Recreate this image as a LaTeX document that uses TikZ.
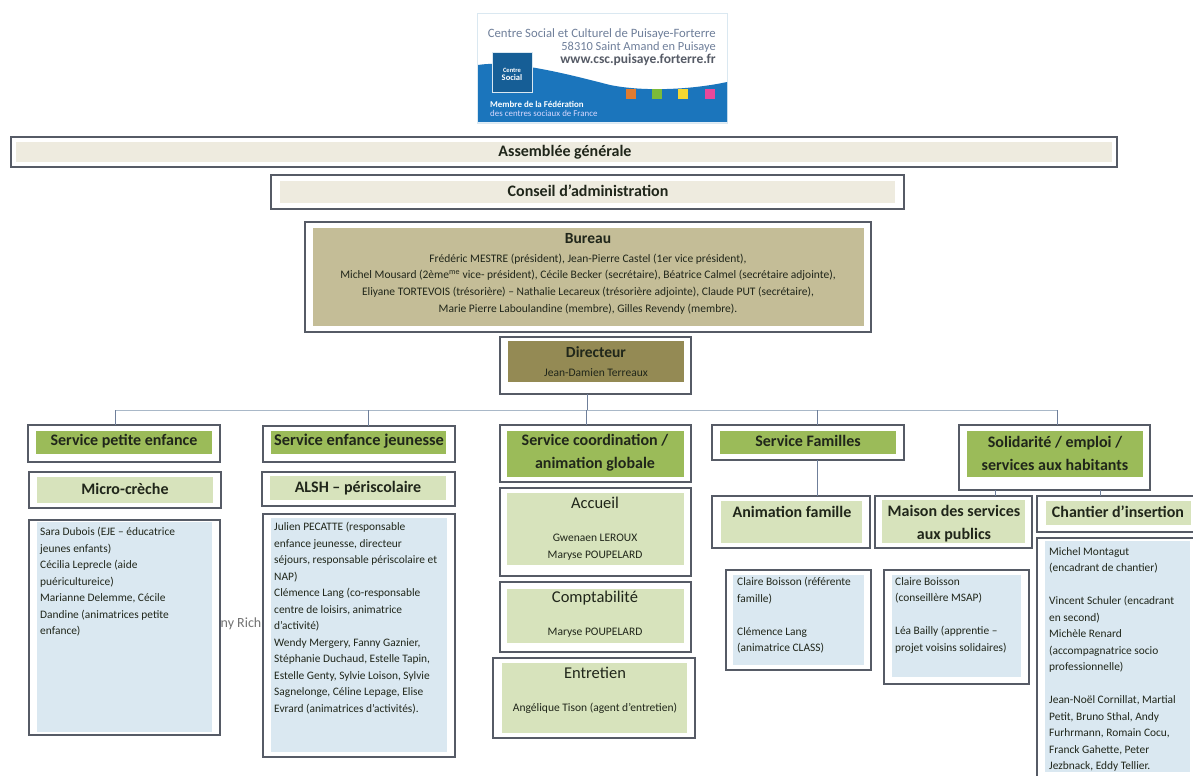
\documentclass[tikz,border=0pt]{standalone}
\usepackage{fontspec}
\setmainfont{Carlito}
\usetikzlibrary{fit}
\definecolor{lineC}{HTML}{565B66}
\definecolor{busC}{HTML}{A9B8C8}
\definecolor{stemC}{HTML}{6F7F9A}
\definecolor{beigeC}{HTML}{EEEBDF}
\definecolor{bureauC}{HTML}{C4BD97}
\definecolor{dirC}{HTML}{948A54}
\definecolor{greenC}{HTML}{9BBB59}
\definecolor{subC}{HTML}{D7E3BC}
\definecolor{blueC}{HTML}{DAE8F1}
\definecolor{inkC}{HTML}{20261A}
\definecolor{logoC}{HTML}{1B75BC}
\definecolor{sqA}{HTML}{E07B2E}
\definecolor{sqB}{HTML}{7CBB3A}
\definecolor{sqD}{HTML}{F5D730}
\definecolor{sqE}{HTML}{E8489B}
\tikzset{
 outerb/.style={draw=lineC,line width=1.5pt,inner sep=0pt,outer sep=0pt},
 openb/.style={draw=lineC,line width=1.5pt},
 fillb/.style={inner sep=0pt,outer sep=0pt},
 stem/.style={draw=stemC,line width=0.9pt},
 buss/.style={draw=busC,line width=1pt},
 ttl/.style={inner sep=0pt,font=\fontsize{16}{18}\selectfont\bfseries,text=inkC,align=center},
 ttlb/.style={inner sep=0pt,font=\fontsize{16}{23}\selectfont\bfseries,text=inkC,align=center},
 ttlr/.style={inner sep=0pt,font=\fontsize{16.5}{18}\selectfont,text=inkC,align=center},
 sm/.style={inner sep=0pt,font=\fontsize{11.5}{16.6}\selectfont,text=inkC,align=center},
 lst/.style={inner sep=0pt,anchor=north west,font=\fontsize{11.4}{16.5}\selectfont,text=inkC,align=left},
 logoT/.style={inner sep=0pt,anchor=east},
 sq/.style={inner sep=0pt,outer sep=0pt,minimum size=10pt}
}
\begin{document}
\begin{tikzpicture}[x=1pt,y=-1pt]
\useasboundingbox[fill=white] (0,0) rectangle (1193,776);
% logo
\node[fit={(477,14)(727,123)},inner sep=0pt,outer sep=0pt,draw=blueC,line width=1pt,fill=white] (logo) {};
\fill[logoC] (478,65) .. controls (510,60) and (560,72) .. (610,85) .. controls (650,93) and (700,88) .. (727,82) -- (727,122) -- (478,122) -- cycle;
\node[fit={(492,52)(532,92)},inner sep=0pt,outer sep=0pt,draw=blueC,line width=0.8pt,fill=logoC!80!black] (lsq) {};
\node[inner sep=0pt,text=white,font=\fontsize{6.5}{7}\selectfont\bfseries,align=center] (lsqt) at (512,74) {Centre\\[1pt]\fontsize{8.5}{9}\selectfont Social};
\node[logoT,text=stemC,font=\fontsize{12.7}{14}\selectfont] (l1) at (716,34) {Centre Social et Culturel de Puisaye-Forterre};
\node[logoT,text=stemC,font=\fontsize{12.4}{14}\selectfont] (l2) at (716,47) {58310 Saint Amand en Puisaye};
\node[logoT,text=lineC,font=\fontsize{13.5}{14}\selectfont\bfseries] (l3) at (716,60) {www.csc.puisaye.forterre.fr};
\node[inner sep=0pt,anchor=west,text=white,font=\fontsize{8.9}{10}\selectfont\bfseries] (l4) at (490,104) {Membre de la Fédération};
\node[inner sep=0pt,anchor=west,text=white!85!blue,font=\fontsize{8.9}{10}\selectfont] (l5) at (490,113) {des centres sociaux de France};
\node[sq,fill=sqA] (s1) at (631,94) {};
\node[sq,fill=sqB] (s2) at (657,94) {};
\node[sq,fill=sqD] (s3) at (683,94) {};
\node[sq,fill=sqE] (s4) at (710,94) {};
% stray text behind
\node[inner sep=0pt,text=black!55,font=\fontsize{14}{16}\selectfont] (rich) at (241,624) {ny Rich};
% top boxes
\node[outerb,fit={(11,137)(1117,167)}] (ag) {};
\node[fillb,fill=beigeC,fit={(16,142)(1112,162)}] (agf) {};
\node[ttl] (agt) at (565,152) {Assemblée générale};
\node[outerb,fit={(271,175)(904,209)}] (ca) {};
\node[fillb,fill=beigeC,fit={(280,181)(895,203)}] (caf) {};
\node[ttl] (cat) at (588,191) {Conseil d’administration};
\node[outerb,fit={(305,222)(871,332)}] (bu) {};
\node[fillb,fill=bureauC,fit={(313,228)(864,326)}] (buf) {};
\node[ttl,font=\fontsize{15.5}{18}\selectfont\bfseries] (but) at (588,239) {Bureau};
\node[sm] (bul) at (588,284) {Frédéric MESTRE (président), Jean-Pierre Castel (1er vice président),\\
Michel Mousard (2ème\textsuperscript{me} vice- président), Cécile Becker (secrétaire), Béatrice Calmel (secrétaire adjointe),\\
Eliyane TORTEVOIS (trésorière) – Nathalie Lecareux  (trésorière adjointe), Claude PUT (secrétaire),\\
Marie Pierre Laboulandine  (membre), Gilles Revendy (membre).};
\node[outerb,fit={(500,337)(691,394)}] (di) {};
\node[fillb,fill=dirC,fit={(508,341)(684,382)}] (dif) {};
\node[ttl,font=\fontsize{15.5}{18}\selectfont\bfseries] (dit) at (596,352) {Directeur};
\node[sm] (dil) at (596,373) {Jean-Damien Terreaux};
% service boxes
\node[outerb,fit={(28,425)(220,462)}] (sp) {};
\node[fillb,fill=greenC,fit={(36,431)(212,454)}] (spf) {};
\node[ttl] (spt) at (124,441) {Service petite enfance};
\node[outerb,fit={(263,426)(455,462)}] (se) {};
\node[fillb,fill=greenC,fit={(271,431)(446,454)}] (sef) {};
\node[ttl,font=\fontsize{16.4}{18}\selectfont\bfseries] (set) at (359,441) {Service enfance jeunesse};
\node[outerb,fit={(500,425)(691,482)}] (sc) {};
\node[fillb,fill=greenC,fit={(507,431)(684,477)}] (scf) {};
\node[ttlb] (sct) at (595,453) {Service coordination /\\animation globale};
\node[outerb,fit={(712,425)(904,460)}] (sf) {};
\node[fillb,fill=greenC,fit={(720,431)(896,454)}] (sff) {};
\node[ttl] (sft) at (808,441) {Service Familles};
\node[outerb,fit={(959,425)(1150,490)}] (ss) {};
\node[fillb,fill=greenC,fit={(967,431)(1143,477)}] (ssf) {};
\node[ttlb] (sst) at (1055,453) {Solidarité / emploi /\\services aux habitants};
% sub boxes
\node[outerb,fit={(29,472)(221,508)}] (mc) {};
\node[fillb,fill=subC,fit={(37,477)(213,503)}] (mcf) {};
\node[ttl] (mct) at (125,489) {Micro-crèche};
\node[outerb,fit={(262,472)(455,506)}] (al) {};
\node[fillb,fill=subC,fit={(270,476)(446,500)}] (alf) {};
\node[ttl] (alt) at (358,488) {ALSH – périscolaire};
\node[outerb,fit={(500,488)(691,576)}] (ac) {};
\node[fillb,fill=subC,fit={(507,493)(684,565)}] (acf) {};
\node[ttlr] (act) at (595,503) {Accueil};
\node[sm] (acl) at (595,547) {Gwenaen LEROUX\\Maryse POUPELARD};
\node[outerb,fit={(500,582)(691,652)}] (co) {};
\node[fillb,fill=subC,fit={(507,589)(684,643)}] (cof) {};
\node[ttlr] (cot) at (595,598) {Comptabilité};
\node[sm] (col) at (595,633) {Maryse POUPELARD};
\node[outerb,fit={(493,658)(695,738)}] (en) {};
\node[fillb,fill=subC,fit={(502,663)(687,733)}] (enf) {};
\node[ttlr] (ent) at (595,673) {Entretien};
\node[sm] (enl) at (595,708) {Angélique Tison (agent d’entretien)};
\node[outerb,fit={(712,496)(870,548)}] (af) {};
\node[fillb,fill=subC,fit={(721,501)(862,543)}] (aff) {};
\node[ttl] (aft) at (792,512) {Animation famille};
\node[outerb,fit={(875,496)(1032,548)}] (ms) {};
\node[fillb,fill=subC,fit={(882,500)(1025,543)}] (msf) {};
\node[ttlb] (mst) at (954,524) {Maison des services\\aux publics};
\node[fillb,fit={(1037,496)(1193,532)}] (ch) {};
\draw[openb] (1193,496) -- (1037,496) -- (1037,532) -- (1193,532);
\node[fillb,fill=subC,fit={(1046,501)(1191,525)}] (chf) {};
\node[ttl] (cht) at (1118,512) {Chantier d’insertion};
% list boxes
\node[outerb,fit={(29,520)(220,735)}] (b1) {};
\node[fillb,fill=blueC,fit={(37,522)(212,732)}] (b1f) {};
\node[lst] (b1t) at (40,527) {Sara Dubois (EJE – éducatrice\\jeunes enfants)\\Cécilia Leprecle (aide\\puéricultureice)\\Marianne Delemme, Cécile\\Dandine (animatrices petite\\enfance)};
\node[outerb,fit={(263,514)(455,757)}] (b2) {};
\node[fillb,fill=blueC,fit={(271,518)(447,752)}] (b2f) {};
\node[lst] (b2t) at (274,522) {Julien PECATTE (responsable\\enfance jeunesse, directeur\\séjours, responsable périscolaire et\\NAP)\\Clémence Lang (co-responsable\\centre de loisirs, animatrice\\d’activité)\\Wendy  Mergery, Fanny Gaznier,\\Stéphanie Duchaud, Estelle Tapin,\\Estelle Genty, Sylvie Loison, Sylvie\\Sagnelonge, Céline Lepage, Elise\\Evrard (animatrices d’activités).};
\node[outerb,fit={(726,570)(871,670)}] (b3) {};
\node[fillb,fill=blueC,fit={(733,575)(864,665)}] (b3f) {};
\node[lst] (b3t) at (737,577) {Claire Boisson (référente\\famille)\\[\baselineskip]Clémence Lang\\(animatrice CLASS)};
\node[outerb,fit={(884,570)(1029,684)}] (b4) {};
\node[fillb,fill=blueC,fit={(892,575)(1021,677)}] (b4f) {};
\node[lst] (b4t) at (895,577) {Claire Boisson\\(conseillère MSAP)\\[\baselineskip]Léa Bailly (apprentie –\\projet voisins solidaires)};
\node[fillb,fit={(1037,538)(1193,776)}] (b5) {};
\draw[openb] (1193,538) -- (1037,538) -- (1037,776);
\node[fillb,fill=blueC,fit={(1045,541)(1190,772)}] (b5f) {};
\node[lst] (b5t) at (1049,547) {Michel Montagut\\ (encadrant de chantier)\\[\baselineskip]Vincent Schuler (encadrant\\en second)\\Michèle Renard\\(accompagnatrice socio\\professionnelle)\\[\baselineskip]Jean-Noël Cornillat, Martial\\Petit, Bruno Sthal, Andy\\Furhrmann, Romain Cocu,\\Franck Gahette, Peter\\Jezbnack, Eddy Tellier.};
% connectors
\coordinate (busL) at (115,410);
\coordinate (busR) at (1057,410);
\coordinate (busA) at (368,410);
\coordinate (busB) at (587,410);
\coordinate (busC) at (817,410);
\coordinate (solA) at (995,490);
\coordinate (solB) at (1100,490);
\coordinate (busD) at (586,410);
\draw[buss] (busL) -- (busR);
\draw[stem] (busB) -- (busB |- di.south);
\draw[stem] (busL) -- (busL |- sp.north);
\draw[stem] (busA) -- (busA |- se.north);
\draw[stem] (busD) -- (busD |- sc.north);
\draw[stem] (busC) -- (busC |- sf.north);
\draw[stem] (busR) -- (busR |- ss.north);
\draw[stem] (busC |- sf.south) -- (busC |- af.north);
\draw[stem] (solA) -- (solA |- ms.north);
\draw[stem] (solB) -- (solB |- ch.north);
\end{tikzpicture}
\end{document}
